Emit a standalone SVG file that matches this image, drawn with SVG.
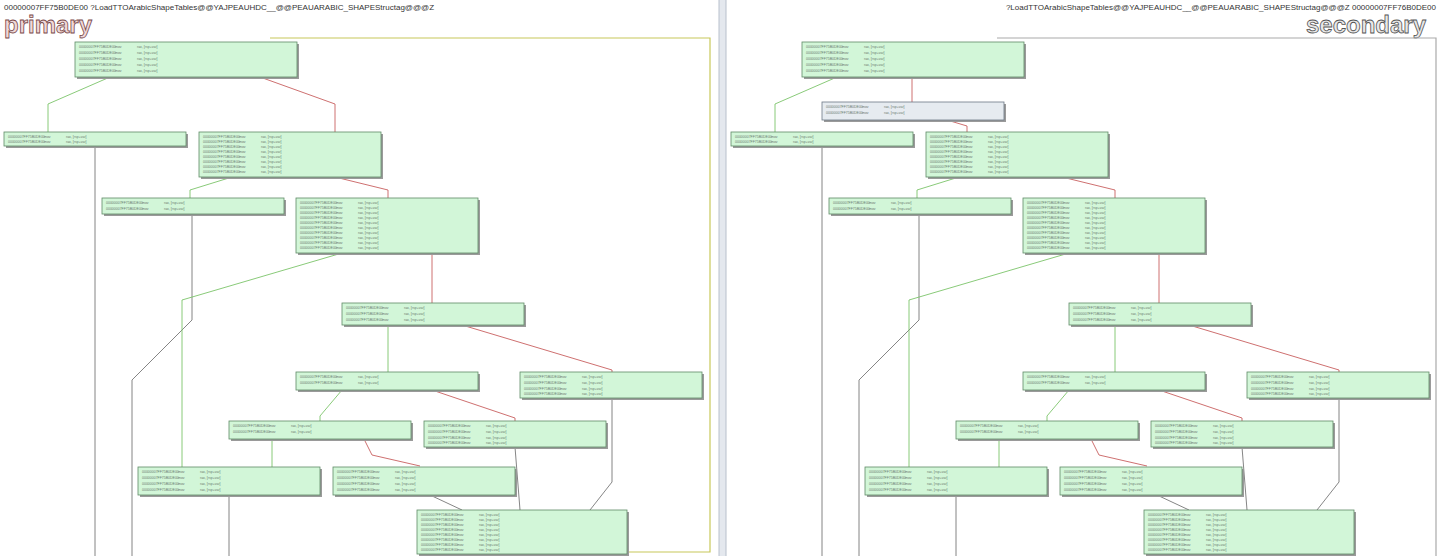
<svg xmlns="http://www.w3.org/2000/svg" width="1440" height="556" viewBox="0 0 1440 556">
<style>
.n{fill:#d2f6d8;stroke:#5f8a66;stroke-width:0.8}
.g{fill:#e6ebf0;stroke:#6d7885;stroke-width:0.8}
.sh{fill:#9a9a9a}
.t{font-family:"Liberation Sans",sans-serif;font-size:3.5px;fill:#6b7a6e}
.hd{font-family:"Liberation Sans",sans-serif;font-size:8px;fill:#333}
.big{font-family:"Liberation Sans",sans-serif;font-size:24px;font-weight:bold;fill:#f0d8d8;stroke:#7a4a4a;stroke-width:0.8}
.bigs{font-family:"Liberation Sans",sans-serif;font-size:24px;font-weight:bold;fill:#e8e8e8;stroke:#555;stroke-width:0.8}
.eg{fill:none;stroke:#7cc46a;stroke-width:0.9}
.er{fill:none;stroke:#c86060;stroke-width:0.9}
.ex{fill:none;stroke:#777;stroke-width:0.9}
.fr{fill:none;stroke:#c8c85a;stroke-width:1.2}
.frs{fill:none;stroke:#aaa;stroke-width:1.2}
</style>
<defs>
<g id="row"><text class="t" x="4" y="0">00000007FF75B0DE00</text><text class="t" x="40" y="0">mov</text><text class="t" x="62" y="0">rax, [rsp+var]</text></g>
</defs>
<rect width="1440" height="556" fill="#fff"/>
<rect x="719" y="0" width="7" height="556" fill="#e4e8ee"/>
<line x1="719" y1="0" x2="719" y2="556" stroke="#b8c0cc"/>
<line x1="726" y1="0" x2="726" y2="556" stroke="#b8c0cc"/>
<text class="hd" x="4" y="10">00000007FF75B0DE00   ?LoadTTOArabicShapeTables@@YAJPEAUHDC__@@PEAUARABIC_SHAPEStructag@@@Z</text>
<text class="hd" x="1436" y="10" text-anchor="end">?LoadTTOArabicShapeTables@@YAJPEAUHDC__@@PEAUARABIC_SHAPEStructag@@@Z   00000007FF76B0DE00</text>
<text class="big" x="4" y="33">primary</text>
<text class="bigs" x="1426" y="33" text-anchor="end">secondary</text>
<path class="fr" d="M270 38 H710 V552 H628"/>
<path class="frs" d="M997 38 H1436 V556"/>
<g id="connectors">
<path class="eg" d="M110 77 L48 104 V132"/>
<path class="er" d="M260 77 L335 104 V132"/>
<path class="ex" d="M95 146 V556"/>
<path class="eg" d="M232 177 L190 190 V198"/>
<path class="er" d="M335 177 L388 190 V198"/>
<path class="ex" d="M192 214 V320 L132 380 V556"/>
<path class="eg" d="M342 253 L182 300 V467"/>
<path class="er" d="M432 253 V303"/>
<path class="eg" d="M388 325 V372"/>
<path class="er" d="M462 325 L612 370 V372"/>
<path class="eg" d="M342 390 L320 416 V421"/>
<path class="er" d="M432 390 L515 418 V421"/>
<path class="ex" d="M612 398 V482 L590 510"/>
<path class="eg" d="M272 439 V467"/>
<path class="er" d="M364 439 L372 455 L420 466"/>
<path class="ex" d="M515 447 L520 510"/>
<path class="ex" d="M229 495 V556"/>
<path class="ex" d="M430 495 L462 510"/>
<path class="ex" d="M470 554 V556"/>
<g transform="translate(727 0)">
<path class="eg" d="M110 77 L48 104 V132"/>
<path class="er" d="M185 77 V102"/>
<path class="er" d="M220 120 L240 126 V132"/>
<path class="ex" d="M95 146 V556"/>
<path class="eg" d="M232 177 L190 190 V198"/>
<path class="er" d="M335 177 L388 190 V198"/>
<path class="ex" d="M192 214 V320 L132 380 V556"/>
<path class="eg" d="M342 253 L182 300 V467"/>
<path class="er" d="M432 253 V303"/>
<path class="eg" d="M388 325 V372"/>
<path class="er" d="M462 325 L612 370 V372"/>
<path class="eg" d="M342 390 L320 416 V421"/>
<path class="er" d="M432 390 L515 418 V421"/>
<path class="ex" d="M612 398 V482 L590 510"/>
<path class="eg" d="M272 439 V467"/>
<path class="er" d="M364 439 L372 455 L420 466"/>
<path class="ex" d="M515 447 L520 510"/>
<path class="ex" d="M229 495 V556"/>
<path class="ex" d="M430 495 L462 510"/>
<path class="ex" d="M470 554 V556"/>
</g>
</g>
<g id="p1" transform="translate(75 42)"><rect class="sh" x="2" y="2" width="222" height="35"/><rect class="n" width="222" height="35"/><use href="#row" y="6"/><use href="#row" y="12"/><use href="#row" y="18"/><use href="#row" y="24"/><use href="#row" y="30"/></g>
<g id="p2" transform="translate(4 132)"><rect class="sh" x="2" y="2" width="182" height="14"/><rect class="n" width="182" height="14"/><use href="#row" y="6"/><use href="#row" y="11"/></g>
<g id="p3" transform="translate(199 132)"><rect class="sh" x="2" y="2" width="182" height="45"/><rect class="n" width="182" height="45"/><use href="#row" y="6"/><use href="#row" y="11"/><use href="#row" y="16"/><use href="#row" y="21"/><use href="#row" y="26"/><use href="#row" y="31"/><use href="#row" y="36"/><use href="#row" y="41"/></g>
<g id="p4" transform="translate(102 198)"><rect class="sh" x="2" y="2" width="182" height="16"/><rect class="n" width="182" height="16"/><use href="#row" y="6"/><use href="#row" y="12"/></g>
<g id="p5" transform="translate(296 198)"><rect class="sh" x="2" y="2" width="182" height="55"/><rect class="n" width="182" height="55"/><use href="#row" y="6"/><use href="#row" y="11"/><use href="#row" y="16"/><use href="#row" y="21"/><use href="#row" y="26"/><use href="#row" y="31"/><use href="#row" y="36"/><use href="#row" y="41"/><use href="#row" y="46"/><use href="#row" y="51"/></g>
<g id="p6" transform="translate(342 303)"><rect class="sh" x="2" y="2" width="182" height="22"/><rect class="n" width="182" height="22"/><use href="#row" y="6"/><use href="#row" y="12"/><use href="#row" y="18"/></g>
<g id="p7" transform="translate(296 372)"><rect class="sh" x="2" y="2" width="182" height="18"/><rect class="n" width="182" height="18"/><use href="#row" y="6"/><use href="#row" y="12"/></g>
<g id="p8" transform="translate(520 372)"><rect class="sh" x="2" y="2" width="182" height="26"/><rect class="n" width="182" height="26"/><use href="#row" y="6"/><use href="#row" y="12"/><use href="#row" y="18"/><use href="#row" y="23"/></g>
<g id="p9" transform="translate(229 421)"><rect class="sh" x="2" y="2" width="182" height="18"/><rect class="n" width="182" height="18"/><use href="#row" y="6"/><use href="#row" y="12"/></g>
<g id="p10" transform="translate(424 421)"><rect class="sh" x="2" y="2" width="182" height="26"/><rect class="n" width="182" height="26"/><use href="#row" y="6"/><use href="#row" y="12"/><use href="#row" y="18"/><use href="#row" y="23"/></g>
<g id="p11" transform="translate(138 467)"><rect class="sh" x="2" y="2" width="182" height="28"/><rect class="n" width="182" height="28"/><use href="#row" y="6"/><use href="#row" y="12"/><use href="#row" y="18"/><use href="#row" y="24"/></g>
<g id="p12" transform="translate(333 467)"><rect class="sh" x="2" y="2" width="182" height="28"/><rect class="n" width="182" height="28"/><use href="#row" y="6"/><use href="#row" y="12"/><use href="#row" y="18"/><use href="#row" y="24"/></g>
<g id="p13" transform="translate(417 510)"><rect class="sh" x="2" y="2" width="210" height="44"/><rect class="n" width="210" height="44"/><use href="#row" y="6"/><use href="#row" y="11"/><use href="#row" y="16"/><use href="#row" y="21"/><use href="#row" y="26"/><use href="#row" y="31"/><use href="#row" y="36"/><use href="#row" y="41"/></g>
<g id="s1" transform="translate(802 42)"><rect class="sh" x="2" y="2" width="222" height="35"/><rect class="n" width="222" height="35"/><use href="#row" y="6"/><use href="#row" y="12"/><use href="#row" y="18"/><use href="#row" y="24"/><use href="#row" y="30"/></g>
<g id="sx" transform="translate(822 102)"><rect class="sh" x="2" y="2" width="182" height="18"/><rect class="g" width="182" height="18"/><use href="#row" y="6"/><use href="#row" y="12"/></g>
<g id="s2" transform="translate(731 132)"><rect class="sh" x="2" y="2" width="182" height="14"/><rect class="n" width="182" height="14"/><use href="#row" y="6"/><use href="#row" y="11"/></g>
<g id="s3" transform="translate(926 132)"><rect class="sh" x="2" y="2" width="182" height="45"/><rect class="n" width="182" height="45"/><use href="#row" y="6"/><use href="#row" y="11"/><use href="#row" y="16"/><use href="#row" y="21"/><use href="#row" y="26"/><use href="#row" y="31"/><use href="#row" y="36"/><use href="#row" y="41"/></g>
<g id="s4" transform="translate(829 198)"><rect class="sh" x="2" y="2" width="182" height="16"/><rect class="n" width="182" height="16"/><use href="#row" y="6"/><use href="#row" y="12"/></g>
<g id="s5" transform="translate(1023 198)"><rect class="sh" x="2" y="2" width="182" height="55"/><rect class="n" width="182" height="55"/><use href="#row" y="6"/><use href="#row" y="11"/><use href="#row" y="16"/><use href="#row" y="21"/><use href="#row" y="26"/><use href="#row" y="31"/><use href="#row" y="36"/><use href="#row" y="41"/><use href="#row" y="46"/><use href="#row" y="51"/></g>
<g id="s6" transform="translate(1069 303)"><rect class="sh" x="2" y="2" width="182" height="22"/><rect class="n" width="182" height="22"/><use href="#row" y="6"/><use href="#row" y="12"/><use href="#row" y="18"/></g>
<g id="s7" transform="translate(1023 372)"><rect class="sh" x="2" y="2" width="182" height="18"/><rect class="n" width="182" height="18"/><use href="#row" y="6"/><use href="#row" y="12"/></g>
<g id="s8" transform="translate(1247 372)"><rect class="sh" x="2" y="2" width="182" height="26"/><rect class="n" width="182" height="26"/><use href="#row" y="6"/><use href="#row" y="12"/><use href="#row" y="18"/><use href="#row" y="23"/></g>
<g id="s9" transform="translate(956 421)"><rect class="sh" x="2" y="2" width="182" height="18"/><rect class="n" width="182" height="18"/><use href="#row" y="6"/><use href="#row" y="12"/></g>
<g id="s10" transform="translate(1151 421)"><rect class="sh" x="2" y="2" width="182" height="26"/><rect class="n" width="182" height="26"/><use href="#row" y="6"/><use href="#row" y="12"/><use href="#row" y="18"/><use href="#row" y="23"/></g>
<g id="s11" transform="translate(865 467)"><rect class="sh" x="2" y="2" width="182" height="28"/><rect class="n" width="182" height="28"/><use href="#row" y="6"/><use href="#row" y="12"/><use href="#row" y="18"/><use href="#row" y="24"/></g>
<g id="s12" transform="translate(1060 467)"><rect class="sh" x="2" y="2" width="182" height="28"/><rect class="n" width="182" height="28"/><use href="#row" y="6"/><use href="#row" y="12"/><use href="#row" y="18"/><use href="#row" y="24"/></g>
<g id="s13" transform="translate(1144 510)"><rect class="sh" x="2" y="2" width="210" height="44"/><rect class="n" width="210" height="44"/><use href="#row" y="6"/><use href="#row" y="11"/><use href="#row" y="16"/><use href="#row" y="21"/><use href="#row" y="26"/><use href="#row" y="31"/><use href="#row" y="36"/><use href="#row" y="41"/></g>
</svg>
